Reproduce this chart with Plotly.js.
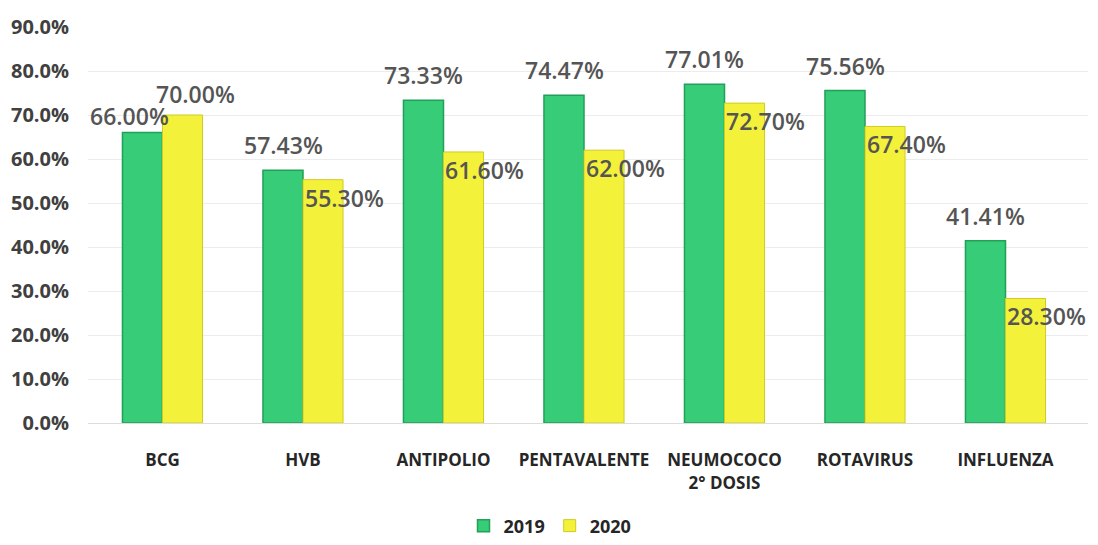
<!DOCTYPE html>
<html>
<head>
<meta charset="utf-8">
<script src="https://cdn.plot.ly/plotly-3.0.1.min.js"></script>
<style>
  html, body { margin: 0; padding: 0; background: #ffffff; }
  #chart { width: 1098px; height: 545px; }
</style>
</head>
<body>
<div id="chart"></div>
<script>
// ---- data ----
const categories = ['BCG', 'HVB', 'ANTIPOLIO', 'PENTAVALENTE', 'NEUMOCOCO<br>2° DOSIS', 'ROTAVIRUS', 'INFLUENZA'];
const values2019 = [0.66, 0.5743, 0.7333, 0.7447, 0.7701, 0.7556, 0.4141];
const values2020 = [0.70, 0.553, 0.616, 0.62, 0.727, 0.674, 0.283];
const seriesNames = ['2019', '2020'];
const yTickValues = [0, 0.1, 0.2, 0.3, 0.4, 0.5, 0.6, 0.7, 0.8, 0.9];

// label placement styles (kept apart from the data)
const place2019 = ['above-left', 'above', 'above', 'above', 'above', 'above', 'above'];
const place2020 = ['above-right', 'side', 'side', 'side', 'side', 'side', 'side'];

const GREEN = '#36cc78';
const GREEN_EDGE = '#22a058';
const YELLOW = '#f4f13a';
const YELLOW_EDGE = '#cfcb22';
const FONT = 'Open Sans, Liberation Sans, sans-serif';

const traces = [
  {
    type: 'bar', name: seriesNames[0], x: categories, y: values2019,
    marker: { color: GREEN, line: { color: GREEN_EDGE, width: 1.5 } },
    hoverinfo: 'skip'
  },
  {
    type: 'bar', name: seriesNames[1], x: categories, y: values2020,
    marker: { color: YELLOW, line: { color: YELLOW_EDGE, width: 1 } },
    hoverinfo: 'skip'
  }
];

function fmt(v) { return (v * 100).toFixed(2) + '%'; }

const shiftMap = {
  'above-left':  { dx: -33, dy: 17 },
  'above':       { dx: -20, dy: 25 },
  'above-right': { dx: 33,  dy: 21 },
  'side':        { dx: 41,  dy: -18 }
};

const annotations = [];
categories.forEach((c, i) => {
  const s1 = shiftMap[place2019[i]];
  annotations.push({
    x: c, y: values2019[i], xref: 'x', yref: 'y', text: fmt(values2019[i]),
    showarrow: false, xanchor: 'center', yanchor: 'middle',
    xshift: s1.dx, yshift: s1.dy,
    font: { family: FONT, size: 23, color: '#555555', weight: 600 }
  });
  const s2 = shiftMap[place2020[i]];
  annotations.push({
    x: c, y: values2020[i], xref: 'x', yref: 'y', text: fmt(values2020[i]),
    showarrow: false, xanchor: 'center', yanchor: 'middle',
    xshift: s2.dx, yshift: s2.dy,
    font: { family: FONT, size: 23, color: '#555555', weight: 600 }
  });
});

const layout = {
  width: 1098, height: 545,
  margin: { l: 88, r: 10, t: 27, b: 122, autoexpand: false },
  paper_bgcolor: '#ffffff', plot_bgcolor: '#ffffff',
  barmode: 'group', bargap: 0.43, bargroupgap: 0,
  showlegend: true,
  legend: {
    orientation: 'h', xref: 'paper', x: 0.462, xanchor: 'center',
    yref: 'container', y: 0.035, yanchor: 'middle',
    font: { family: FONT, size: 18, color: '#262626', weight: 'bold' },
    itemwidth: 30, traceorder: 'normal'
  },
  xaxis: {
    type: 'category', showgrid: false, zeroline: false, automargin: false,
    showline: true, linecolor: '#dcdcdc', linewidth: 1,
    ticks: '', ticklabelstandoff: 22,
    tickfont: { family: FONT, size: 17, color: '#262626', weight: 'bold' }
  },
  yaxis: {
    range: [0, 0.9], tickvals: yTickValues, tickformat: '.1%', automargin: false,
    showgrid: true, gridcolor: '#ececec', gridwidth: 1,
    zeroline: false, showline: false, ticks: '', ticklabelstandoff: 18,
    tickfont: { family: FONT, size: 20, color: '#404040', weight: 'bold' }
  },
  annotations: annotations
};

Plotly.newPlot('chart', traces, layout, { staticPlot: true, displayModeBar: false });
</script>
</body>
</html>
